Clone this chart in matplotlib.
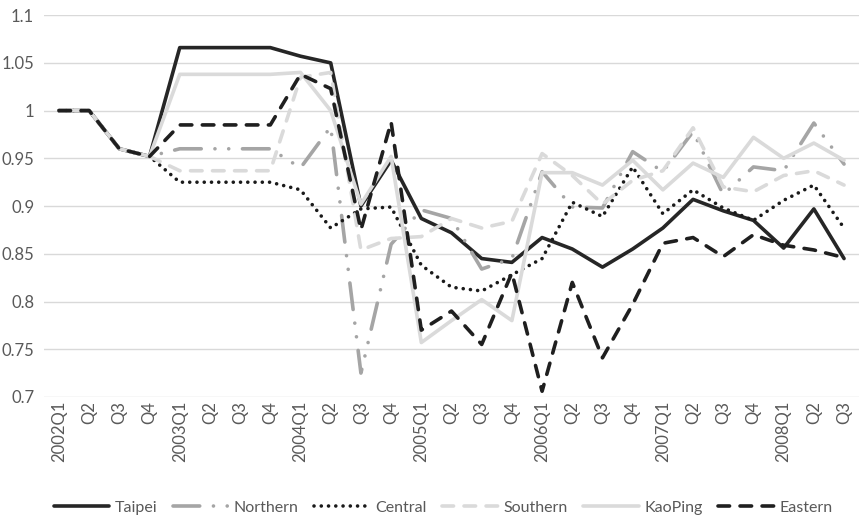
import matplotlib
matplotlib.use("Agg")
import matplotlib.pyplot as plt
import numpy as np

quarters = ["2002Q1", "Q2", "Q3", "Q4",
            "2003Q1", "Q2", "Q3", "Q4",
            "2004Q1", "Q2", "Q3", "Q4",
            "2005Q1", "Q2", "Q3", "Q4",
            "2006Q1", "Q2", "Q3", "Q4",
            "2007Q1", "Q2", "Q3", "Q4",
            "2008Q1", "Q2", "Q3"]

taipei = [1.0, 1.0, 0.96, 0.952, 1.066, 1.066, 1.066, 1.066, 1.057, 1.05,
          0.9, 0.948, 0.887, 0.872, 0.845, 0.841, 0.867, 0.855, 0.836, 0.855,
          0.877, 0.907, 0.895, 0.885, 0.856, 0.897, 0.845]
northern = [1.0, 1.0, 0.96, 0.952, 0.96, 0.96, 0.96, 0.96, 0.94, 0.983,
            0.725, 0.86, 0.896, 0.887, 0.834, 0.845, 0.936, 0.899, 0.898, 0.957,
            0.936, 0.978, 0.912, 0.941, 0.937, 0.987, 0.944]
central = [1.0, 1.0, 0.96, 0.952, 0.925, 0.925, 0.925, 0.925, 0.917, 0.877,
           0.897, 0.899, 0.838, 0.815, 0.811, 0.828, 0.845, 0.904, 0.889, 0.941,
           0.892, 0.917, 0.898, 0.885, 0.906, 0.922, 0.877]
southern = [1.0, 1.0, 0.96, 0.952, 0.937, 0.937, 0.937, 0.937, 1.035, 1.04,
            0.854, 0.866, 0.868, 0.887, 0.877, 0.884, 0.955, 0.932, 0.902, 0.927,
            0.937, 0.982, 0.92, 0.915, 0.932, 0.937, 0.922]
kaoping = [1.0, 1.0, 0.96, 0.952, 1.038, 1.038, 1.038, 1.038, 1.04, 1.0,
           0.902, 0.952, 0.757, 0.78, 0.802, 0.78, 0.935, 0.935, 0.922, 0.948,
           0.917, 0.945, 0.93, 0.972, 0.95, 0.966, 0.948]
eastern = [1.0, 1.0, 0.96, 0.952, 0.985, 0.985, 0.985, 0.985, 1.038, 1.023,
           0.875, 0.988, 0.77, 0.79, 0.755, 0.83, 0.706, 0.82, 0.741, 0.797,
           0.861, 0.867, 0.847, 0.87, 0.859, 0.854, 0.846]

plt.rcParams['font.family'] = ['Lato', 'DejaVu Sans']

fig, ax = plt.subplots(figsize=(8.6, 5.23), dpi=100)
fig.subplots_adjust(left=0.051, right=0.999, top=0.971, bottom=0.241)

x = np.arange(len(quarters))

# series in drawing order, later ones sit on top
ax.plot(x, taipei, color='#262626', lw=2.6, solid_capstyle='round',
        solid_joinstyle='round', label='Taipei')
ax.plot(x, northern, color='#a5a5a5', lw=2.6,
        linestyle=(0, (7.4, 3.8, 0.01, 3.8, 0.01, 3.8)),
        dash_capstyle='round', dash_joinstyle='round', label='Northern')
ax.plot(x, central, color='#1a1a1a', lw=2.6, linestyle=(0, (0.01, 2.0)),
        dash_capstyle='round', label='Central')
ax.plot(x, southern, color='#dadada', lw=2.6, linestyle=(0, (3.2, 2.9)),
        dash_capstyle='round', dash_joinstyle='round', label='Southern')
ax.plot(x, kaoping, color='#dadada', lw=2.6, solid_capstyle='round',
        solid_joinstyle='round', label='KaoPing')
ax.plot(x, eastern, color='#1f1f1f', lw=2.6, linestyle=(0, (3.2, 2.9)),
        dash_capstyle='round', dash_joinstyle='round', label='Eastern')

ax.set_xlim(-0.5, len(quarters) - 0.5)
ax.set_ylim(0.7, 1.1)
yt = np.round(np.arange(0.7, 1.1001, 0.05), 2)
ax.set_yticks(yt)
ax.set_yticklabels(['{:g}'.format(v) for v in yt])
ax.set_xticks(x)
ax.set_xticklabels(quarters, rotation=90)

ax.grid(axis='y', color='#d9d9d9', lw=1)
ax.set_axisbelow(True)
for s in ax.spines.values():
    s.set_visible(False)
ax.tick_params(axis='both', length=0, labelsize=12, colors='#595959')
ax.tick_params(axis='y', pad=7)
ax.tick_params(axis='x', pad=3)

fig.legend(loc='lower center', bbox_to_anchor=(0.515, -0.012), ncol=6,
           frameon=False, fontsize=11.5, handlelength=3.5,
           handletextpad=0.3, columnspacing=1.0, labelcolor='#595959')

fig.savefig('out.png', dpi=100)
